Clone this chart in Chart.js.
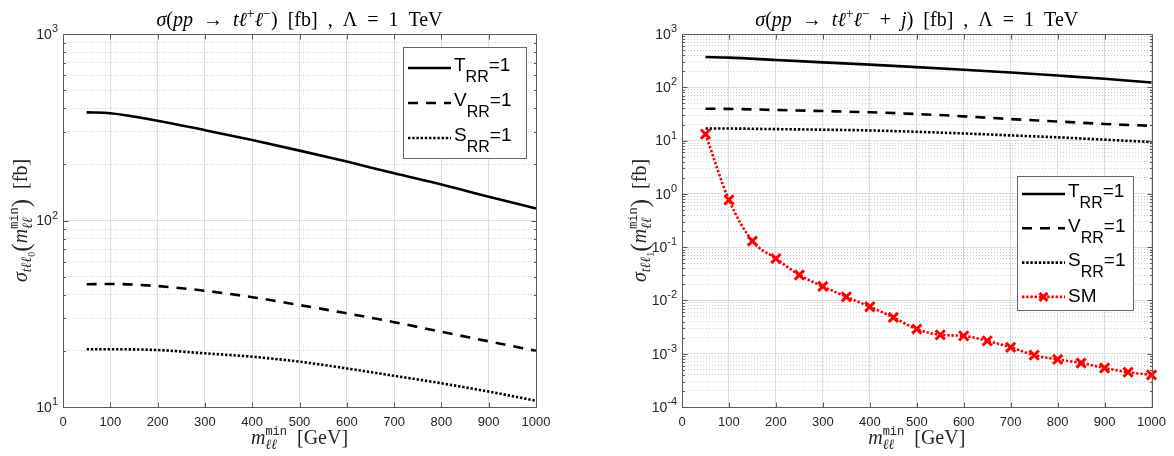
<!DOCTYPE html>
<html>
<head>
<meta charset="utf-8">
<script src="https://cdn.jsdelivr.net/npm/chart.js@4/dist/chart.umd.min.js"></script>
<style>
  body { margin: 0; background: #fff; }
  #wrap { position: relative; width: 1174px; height: 456px; }
  canvas { position: absolute; top: 0; }
</style>
</head>
<body>
<div id="wrap">
  <canvas id="left" width="580" height="456" style="left:0"></canvas>
  <canvas id="right" width="594" height="456" style="left:580px"></canvas>
</div>
<script>
// m_ll^min values (GeV) for the smooth curves
const mllCurve = [50, 100, 200, 300, 400, 500, 600, 700, 800, 900, 1000];

// left panel: sigma(pp -> t l+ l-) [fb]
const tRRLeft = [380, 376, 343, 305, 270, 237, 207, 179, 156, 134, 116];
const vRRLeft = [45.5, 45.7, 44.5, 42, 38.8, 35.2, 31.8, 28.5, 25.3, 22.5, 20];
const sRRLeft = [20.4, 20.4, 20.2, 19.4, 18.6, 17.5, 16.1, 14.7, 13.4, 12.1, 10.8];

// right panel: sigma(pp -> t l+ l- + j) [fb]
const tRRRight = [370, 360, 325, 294, 266, 239, 213, 189, 166, 145, 123];
const vRRRight = [39.5, 39.3, 37.5, 35.8, 34, 31.5, 28.5, 25.3, 22.8, 20.5, 18.9];
const sRRRight = [16.8, 16.8, 16.4, 16, 15.5, 14.6, 13.6, 12.5, 11.5, 10.4, 9.4];

// SM points (right panel)
const mllSM = [50, 100, 150, 200, 250, 300, 350, 400, 450, 500, 550, 600, 650, 700, 750, 800, 850, 900, 950, 1000];
const smRight = [13.2, 0.77, 0.13, 0.061, 0.030, 0.0183, 0.0117, 0.0076, 0.0048, 0.0029,
  0.00226, 0.00216, 0.00174, 0.00132, 0.00094, 0.00078, 0.00067, 0.00054, 0.00045, 0.0004];

const seriesLabels = ['T_RR=1', 'V_RR=1', 'S_RR=1', 'SM'];

const xTicks = [0, 100, 200, 300, 400, 500, 600, 700, 800, 900, 1000];
const xTickLabels = ['0', '100', '200', '300', '400', '500', '600', '700', '800', '900', '1000'];
const yTicksLeft = [10, 100, 1000];
const yTickLabelsLeft = ['10^1', '10^2', '10^3'];
const yTicksRight = [1e-4, 1e-3, 1e-2, 1e-1, 1, 10, 100, 1000];
const yTickLabelsRight = ['10^-4', '10^-3', '10^-2', '10^-1', '10^0', '10^1', '10^2', '10^3'];

// minor log ticks 2..9 in each decade
function minorTicks(majors) {
  const out = [];
  for (let i = 0; i < majors.length - 1; i++)
    for (let k = 2; k <= 9; k++) out.push(+(majors[i] * k).toPrecision(3));
  return out;
}

const pts = (xs, ys) => xs.map((x, i) => ({ x: x, y: ys[i] }));

const FONTS = {
  i: 'italic 20px "Liberation Serif"',
  r: '20px "Liberation Serif"',
  p: '25px "Liberation Serif"',
  si: 'italic 14px "Liberation Serif"',
  sr: '14px "Liberation Serif"',
  xs: '10px "Liberation Serif"',
  tt: '12px "Liberation Mono"'
};

// draws text pieces (sub/superscripts) centred on cx
function drawRich(ctx, parts, cx, y) {
  const laid = [];
  let x = 0, stackStart = null, stackEnd = 0;
  parts.forEach(([t, f, dy = 0, stack]) => {
    ctx.font = FONTS[f];
    const w = ctx.measureText(t).width;
    if (stackStart !== null) {
      laid.push([t, f, dy, stackStart]);
      x = Math.max(stackStart + w, stackEnd);
      stackStart = null;
      return;
    }
    laid.push([t, f, dy, x]);
    if (stack) { stackStart = x; stackEnd = x + w; }
    x += w;
  });
  const x0 = cx - x / 2;
  laid.forEach(([t, f, dy, px]) => { ctx.font = FONTS[f]; ctx.fillText(t, x0 + px, y + dy); });
}

const mllTitle = [['m', 'i'], ['ℓℓ', 'si', 5, true], ['min', 'tt', -9], ['  [GeV]', 'r']];

const decor = {
  id: 'decor',
  afterDraw(chart, args, opts) {
    const { ctx, chartArea: a } = chart;
    const xs = chart.scales.x, y = chart.scales.y, ym = chart.scales.yMinor;
    ctx.save();

    // legend
    const lg = opts.legend;
    const bx = Math.round(a.right - lg.right - lg.width), by = Math.round(a.top + lg.top);
    ctx.fillStyle = '#fff';
    ctx.fillRect(bx, by, lg.width, lg.height);
    ctx.strokeStyle = '#666';
    ctx.lineWidth = 1;
    ctx.strokeRect(bx + 0.5, by + 0.5, lg.width, lg.height);
    chart.data.datasets.forEach((ds, i) => {
      const ly = by + lg.first + i * lg.step;
      ctx.strokeStyle = ds.borderColor;
      ctx.lineWidth = ds.borderWidth;
      ctx.setLineDash(ds.borderDash || []);
      ctx.beginPath();
      ctx.moveTo(bx + 5, ly);
      ctx.lineTo(bx + 48, ly);
      ctx.stroke();
      ctx.setLineDash([]);
      if (ds.pointRadius) {
        const mx = bx + 26.5, r = 4;
        ctx.lineWidth = ds.pointBorderWidth;
        ctx.beginPath();
        ctx.moveTo(mx - r, ly - r); ctx.lineTo(mx + r, ly + r);
        ctx.moveTo(mx - r, ly + r); ctx.lineTo(mx + r, ly - r);
        ctx.stroke();
      }
      ctx.fillStyle = '#000';
      ctx.textBaseline = 'middle';
      const tx = bx + 51;
      const m = ds.label.match(/^([^_]*)_(\w+)(.*)$/);
      ctx.font = '19px "Liberation Sans"';
      if (m) {
        ctx.fillText(m[1], tx, ly - 2);
        const w1 = ctx.measureText(m[1]).width;
        ctx.font = '16px "Liberation Sans"';
        ctx.fillText(m[2], tx + w1, ly + 10);
        const w2 = ctx.measureText(m[2]).width;
        ctx.font = '19px "Liberation Sans"';
        ctx.fillText(m[3], tx + w1 + w2, ly - 2);
      } else {
        ctx.fillText(ds.label, tx, ly);
      }
    });

    // axes box and inward ticks
    ctx.strokeStyle = '#5a5a5a';
    ctx.lineWidth = 1;
    const L = Math.round(a.left) + 0.5, R = Math.round(a.right) + 0.5;
    const T = Math.round(a.top) + 0.5, B = Math.round(a.bottom) + 0.5;
    ctx.strokeRect(L, T, R - L, B - T);
    ctx.beginPath();
    xs.ticks.forEach(t => {
      const px = Math.round(xs.getPixelForValue(t.value)) + 0.5;
      ctx.moveTo(px, B); ctx.lineTo(px, B - 5);
      ctx.moveTo(px, T); ctx.lineTo(px, T + 5);
    });
    y.ticks.forEach(t => {
      const py = Math.round(y.getPixelForValue(t.value)) + 0.5;
      ctx.moveTo(L, py); ctx.lineTo(L + 5, py);
      ctx.moveTo(R, py); ctx.lineTo(R - 5, py);
    });
    ym.ticks.forEach(t => {
      const py = Math.round(ym.getPixelForValue(t.value)) + 0.5;
      ctx.moveTo(L, py); ctx.lineTo(L + 2.5, py);
      ctx.moveTo(R, py); ctx.lineTo(R - 2.5, py);
    });
    ctx.stroke();

    // y tick labels: base with raised exponent
    ctx.fillStyle = '#262626';
    ctx.textBaseline = 'middle';
    y.ticks.forEach((t, i) => {
      const [base, exp] = opts.yLabels[i].split('^');
      const py = y.getPixelForValue(t.value);
      ctx.font = '11px "Liberation Sans"';
      const we = ctx.measureText(exp).width;
      ctx.font = '14px "Liberation Sans"';
      const wb = ctx.measureText(base).width;
      const xe = a.left - 5;
      ctx.fillText(base, xe - we - wb, py + 1);
      ctx.font = '11px "Liberation Sans"';
      ctx.fillText(exp, xe - we, py - 5);
    });

    // titles
    ctx.textBaseline = 'alphabetic';
    ctx.fillStyle = '#000';
    const cx = (a.left + a.right) / 2;
    drawRich(ctx, opts.title, cx, 26);
    ctx.fillStyle = '#262626';
    drawRich(ctx, mllTitle, cx, 444);
    ctx.translate(a.left - 36, (a.top + a.bottom) / 2);
    ctx.rotate(-Math.PI / 2);
    drawRich(ctx, opts.yTitle, 0, 0);
    ctx.restore();
  }
};

function curveSets(t, v, s) {
  const base = { borderColor: '#000', borderWidth: 2.6, pointRadius: 0, cubicInterpolationMode: 'monotone', clip: false };
  return [
    Object.assign({ label: seriesLabels[0], data: pts(mllCurve, t), borderDash: [] }, base),
    Object.assign({ label: seriesLabels[1], data: pts(mllCurve, v), borderDash: [10, 8] }, base),
    Object.assign({ label: seriesLabels[2], data: pts(mllCurve, s), borderDash: [2.4, 1.8] }, base)
  ];
}

function makeOptions(yTicks, padRight, yWidth, plugOpts) {
  const yMin = yTicks[0], yMax = yTicks[yTicks.length - 1];
  return {
    responsive: false,
    animation: false,
    layout: { padding: { top: 34, right: padRight, bottom: 0, left: 0 } },
    scales: {
      x: {
        type: 'linear', min: 0, max: 1000,
        afterBuildTicks: s => { s.ticks = xTicks.map(v => ({ value: v })); },
        afterFit: s => { s.height = 49; },
        ticks: {
          autoSkip: false, maxRotation: 0, padding: 8, color: '#262626',
          font: { family: 'Liberation Sans', size: 13 },
          callback: (v, i) => xTickLabels[i]
        },
        grid: { color: '#dedede', lineWidth: 1, drawTicks: false },
        border: { display: false }
      },
      y: {
        type: 'logarithmic', min: yMin, max: yMax,
        afterBuildTicks: s => { s.ticks = yTicks.map(v => ({ value: v })); },
        afterFit: s => { s.width = yWidth; },
        ticks: { display: false },
        grid: { color: '#dedede', lineWidth: 1, drawTicks: false },
        border: { display: false }
      },
      yMinor: {
        type: 'logarithmic', position: 'right', min: yMin, max: yMax,
        afterBuildTicks: s => { s.ticks = minorTicks(yTicks).map(v => ({ value: v })); },
        afterFit: s => { s.width = 0; },
        ticks: { display: false },
        grid: { color: '#cdcdcd', lineWidth: 1, drawTicks: false },
        border: { display: false, dash: [1, 2] }
      }
    },
    plugins: {
      legend: { display: false },
      tooltip: { enabled: false },
      decor: plugOpts
    }
  };
}

new Chart(document.getElementById('left'), {
  type: 'line',
  data: { datasets: curveSets(tRRLeft, vRRLeft, sRRLeft) },
  options: makeOptions(yTicksLeft, 44, 63, {
    yLabels: yTickLabelsLeft,
    title: [['σ', 'i'], ['(', 'r'], ['pp', 'i'], ['  →  ', 'r'], ['tℓ', 'i'], ['+', 'sr', -8], ['ℓ', 'i'], ['−', 'sr', -8],
      [')', 'r'], ['  [fb]  ,  Λ  =  1  TeV', 'r']],
    yTitle: [['σ', 'i'], ['tℓℓ', 'si', 4], ['0', 'xs', 8], ['(', 'p', 2], ['m', 'i'], ['ℓℓ', 'si', 5, true], ['min', 'tt', -9],
      [')', 'p', 2], ['  [fb]', 'r']],
    legend: { right: 10, top: 13, width: 123, height: 111, first: 21, step: 35 }
  }),
  plugins: [decor]
});

const rightSets = curveSets(tRRRight, vRRRight, sRRRight);
rightSets.push({
  label: seriesLabels[3], data: pts(mllSM, smRight),
  borderColor: '#ff0000', borderWidth: 2.6, borderDash: [2.4, 1.8],
  pointStyle: 'crossRot', pointRadius: 6.5, pointBorderWidth: 3,
  pointBorderColor: '#ff0000', pointBackgroundColor: '#ff0000',
  cubicInterpolationMode: 'monotone', clip: false
});

new Chart(document.getElementById('right'), {
  type: 'line',
  data: { datasets: rightSets },
  options: makeOptions(yTicksRight, 20, 102, {
    yLabels: yTickLabelsRight,
    title: [['σ', 'i'], ['(', 'r'], ['pp', 'i'], ['  →  ', 'r'], ['tℓ', 'i'], ['+', 'sr', -8], ['ℓ', 'i'], ['−', 'sr', -8],
      ['  +  ', 'r'], ['j', 'i'], [')', 'r'], ['  [fb]  ,  Λ  =  1  TeV', 'r']],
    yTitle: [['σ', 'i'], ['tℓℓ', 'si', 4], ['1', 'xs', 8], ['(', 'p', 2], ['m', 'i'], ['ℓℓ', 'si', 5, true], ['min', 'tt', -9],
      [')', 'p', 2], ['  [fb]', 'r']],
    legend: { right: 19, top: 142, width: 116, height: 134, first: 18, step: 34.3 }
  }),
  plugins: [decor]
});
</script>
</body>
</html>
